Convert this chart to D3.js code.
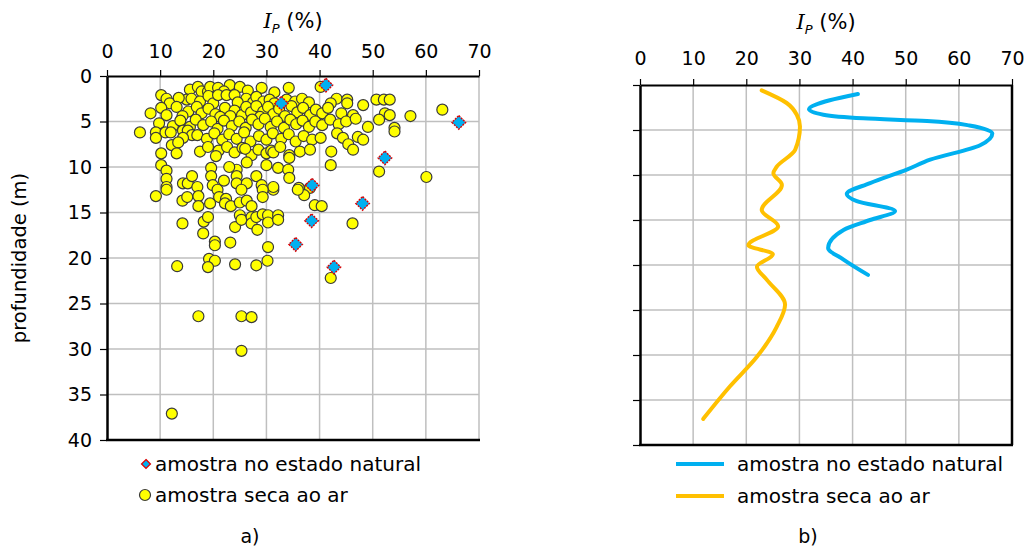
<!DOCTYPE html>
<html><head><meta charset="utf-8">
<script src="https://cdn.jsdelivr.net/npm/d3@7"></script>
<style>body{margin:0;background:#fff}svg{display:block;font-family:"DejaVu Sans",Verdana,sans-serif}</style>
</head><body>
<svg id="c" width="1027" height="547"></svg>
<script>
const ipTicks = [0,10,20,30,40,50,60,70];
const depthTicks = [0,5,10,15,20,25,30,35,40];
const legendLabels = ["amostra no estado natural","amostra seca ao ar"];

// amostra no estado natural [IP %, depth m]
const naturalPoints = [[41.2,1.0],[32.8,3.0],[66.2,5.1],[52.3,9.0],[38.6,12.0],[48.1,14.0],[38.5,15.9],[35.5,18.5],[42.7,21.0]];

// amostra seca ao ar [IP %, depth m]
const secaPoints = [
[15.6,1.5],[17.1,1.2],[17.8,1.7],[19.0,1.7],[19.4,1.2],[20.9,1.3],[23.1,1.0],[25.0,1.2],[29.1,1.3],[34.2,1.3],[40.2,1.2],[26.5,1.6],[22.0,1.7],[31.5,1.8],
[10.2,2.1],[11.2,2.5],[15.0,2.6],[15.9,2.5],[17.5,2.8],[19.1,2.2],[20.0,3.0],[20.9,2.1],[22.5,2.1],[24.0,2.1],[26.2,2.5],[27.5,2.9],[28.1,2.3],[29.4,2.8],[30.6,2.6],[31.5,3.0],[33.8,2.6],[35.4,2.8],[36.7,2.5],[38.0,2.9],[43.2,2.5],[45.2,2.6],[45.2,3.0],[42.1,3.0],[50.7,2.6],[52.1,2.6],[53.2,2.6],[11.8,3.0],[24.6,2.9],[13.5,2.4],
[10.2,3.5],[13.1,3.4],[15.3,3.9],[16.9,3.4],[17.8,4.1],[19.1,3.6],[20.4,4.2],[22.2,3.5],[24.0,3.8],[25.4,4.3],[26.2,3.4],[27.1,4.0],[28.1,3.3],[29.4,3.9],[30.3,3.4],[31.3,4.2],[32.4,3.6],[33.5,4.4],[34.7,3.3],[35.8,4.0],[36.9,3.5],[38.2,4.3],[39.3,3.7],[40.5,4.1],[41.6,3.5],[44.1,4.1],[46.3,4.3],[48.2,3.2],[52.3,4.1],[53.2,4.3],[57.1,4.4],[63.1,3.7],[8.2,4.1],[11.2,4.3],[14.2,4.4],[21.3,4.5],[23.2,4.4],[28.8,4.5],
[9.8,5.2],[12.4,5.5],[13.8,4.9],[15.6,5.6],[16.7,4.8],[18.1,5.4],[19.6,5.0],[20.8,5.8],[22.0,4.9],[23.5,5.5],[24.9,5.0],[26.1,5.7],[27.3,4.8],[28.5,5.3],[29.7,4.7],[30.8,5.6],[32.0,5.0],[33.3,5.7],[34.5,4.8],[35.6,5.3],[36.8,4.9],[38.0,5.6],[39.2,5.0],[40.5,5.4],[42.0,4.8],[43.6,5.3],[45.0,5.0],[46.8,4.7],[49.1,5.6],[51.2,4.8],[54.1,5.7],[6.2,6.2],[9.2,6.2],[11.0,6.2],[12.0,6.2],[14.3,6.0],[15.2,6.0],
[16.0,6.5],[17.0,6.5],[18.8,6.9],[20.2,6.3],[21.7,7.0],[23.0,6.4],[24.4,6.9],[25.8,6.2],[27.0,7.2],[28.6,6.6],[30.0,7.0],[31.2,6.3],[32.8,6.9],[34.2,6.4],[35.5,7.2],[37.0,6.6],[38.6,7.0],[40.2,6.8],[43.3,6.3],[44.4,6.8],[47.2,6.7],[48.2,7.0],[45.4,7.5],[54.1,6.1],[9.2,6.8],[12.2,7.6],[14.3,6.8],[13.4,7.3],
[10.2,8.5],[13.1,8.5],[17.5,8.3],[19.0,7.8],[21.0,8.2],[22.6,7.8],[24.0,8.4],[25.5,7.9],[27.2,8.7],[28.5,8.1],[30.0,8.5],[30.9,8.2],[31.3,8.4],[32.6,7.8],[34.3,8.7],[34.3,9.0],[36.3,8.3],[38.2,8.1],[42.2,8.3],[46.3,8.1],[26.0,8.0],[20.5,8.8],
[10.2,9.8],[11.2,10.4],[11.2,11.3],[11.2,12.2],[14.3,11.8],[15.2,11.8],[16.0,11.0],[17.0,12.2],[19.6,10.1],[19.6,11.0],[19.9,12.0],[20.8,12.5],[24.4,10.3],[24.4,11.0],[24.4,11.8],[26.3,9.5],[26.3,11.8],[28.1,11.0],[29.1,12.0],[30.0,9.8],[31.3,12.5],[32.2,10.1],[34.1,10.3],[34.3,11.2],[31.3,12.2],[36.1,12.3],[38.2,12.3],[37.1,13.1],[42.1,9.8],[51.2,10.5],[60.1,11.1],[9.2,13.2],[11.2,12.5],[25.3,12.5],[29.3,12.5],[23.0,10.0],[22.0,11.5],
[14.2,13.7],[15.1,13.3],[17.2,13.2],[17.2,14.3],[19.4,14.0],[21.1,13.3],[22.4,13.5],[22.2,14.0],[23.3,14.3],[25.0,13.9],[26.3,13.7],[27.2,14.3],[29.3,13.3],[35.9,12.5],[39.1,14.2],[40.4,14.3],
[14.2,16.2],[18.2,16.0],[19.0,15.5],[18.1,17.3],[20.3,18.2],[20.3,18.6],[23.2,18.3],[24.1,16.6],[25.0,15.3],[25.3,15.8],[27.2,15.5],[27.2,16.2],[28.1,15.5],[28.3,16.9],[29.3,15.2],[30.3,15.3],[30.3,16.1],[32.2,15.3],[32.2,15.8],[30.3,18.8],[46.2,16.2],
[13.2,20.9],[19.2,20.1],[20.3,20.3],[19.0,21.0],[24.1,20.7],[28.1,20.8],[30.2,20.3],[42.1,22.2],
[17.2,26.4],[25.3,26.4],[27.2,26.5],[25.3,30.2],[12.2,37.1]
];

// smoothed profiles (panel b) [IP %, depth m]
const naturalCurve = [[41.0,1.0],[35.7,1.7],[31.8,2.7],[34.5,3.3],[42,3.7],[54,4.0],[62,4.5],[66.3,5.4],[64,6.7],[54.6,8.3],[50.2,9.4],[43.3,10.9],[38.9,12.1],[40.8,12.9],[48,14.0],[43.3,15.0],[38.3,16.1],[35.4,18.1],[38.3,19.4],[42.9,21.1]];
const secaCurve = [[22.9,0.6],[27.6,2.0],[29.5,3.3],[30.1,4.6],[29.2,7.2],[25.7,9.1],[25.1,9.8],[26.7,11.1],[22.9,13.9],[26.0,15.7],[20.4,17.8],[25.0,18.8],[22.0,20.2],[23.8,21.6],[27.3,24.4],[25.7,26.9],[22.0,30.2],[16.9,33.5],[11.9,37.1]];

const svg = d3.select("#c");
const gridColor = "#bfbfbf";
const FONT = 19;

function panel(x0, x1, y0, y1, yLabels, rightBorder, titleY) {
  const x = d3.scaleLinear().domain([0,70]).range([x0,x1]);
  const y = d3.scaleLinear().domain([0,40]).range([y0,y1]);
  const g = svg.append("g");
  g.selectAll(".vg").data(ipTicks.slice(1)).join("line")
    .attr("x1", d=>x(d)).attr("x2", d=>x(d)).attr("y1", y0).attr("y2", y1)
    .attr("stroke", gridColor).attr("stroke-width", 1.5);
  g.selectAll(".hg").data(depthTicks.slice(1)).join("line")
    .attr("x1", x0).attr("x2", x1).attr("y1", d=>y(d)).attr("y2", d=>y(d))
    .attr("stroke", gridColor).attr("stroke-width", 1.5);
  const ax = g.append("g").attr("transform", `translate(0,${y0})`)
    .call(d3.axisTop(x).tickValues(ipTicks).tickSize(6).tickPadding(y0 > 80 ? 14 : 12).tickSizeOuter(0));
  ax.select(".domain").attr("stroke-width", 2);
  ax.selectAll(".tick line").attr("stroke-width", 1.2);
  ax.selectAll("text").attr("font-size", FONT).attr("fill", "#000").attr("font-family", "DejaVu Sans");
  const ay = g.append("g").attr("transform", `translate(${x0},0)`)
    .call(d3.axisLeft(y).tickValues(depthTicks).tickSize(7).tickPadding(8).tickSizeOuter(0)
      .tickFormat(yLabels ? d3.format("d") : () => ""));
  ay.select(".domain").attr("stroke-width", 2.5);
  ay.selectAll(".tick line").attr("stroke-width", 1.2);
  ay.selectAll("text").attr("font-size", FONT).attr("fill", "#000").attr("font-family", "DejaVu Sans");
  g.append("line").attr("x1", x0-1).attr("x2", x1+1).attr("y1", y1).attr("y2", y1)
    .attr("stroke", "#000").attr("stroke-width", 2.5);
  if (rightBorder) g.append("line").attr("x1", x1).attr("x2", x1).attr("y1", y0).attr("y2", y1)
    .attr("stroke", "#000").attr("stroke-width", 2.5);
  const t = g.append("text").attr("x", (x0+x1)/2).attr("y", titleY).attr("text-anchor", "middle")
    .attr("font-size", 21).attr("font-family", "DejaVu Serif, serif");
  t.append("tspan").attr("font-style", "italic").text("I");
  t.append("tspan").attr("font-style", "italic").attr("font-size", 13).attr("font-family","DejaVu Sans").attr("dy", 5).text("P");
  t.append("tspan").attr("dy", -5).attr("font-family","DejaVu Sans").text(" (%)");
  return {x, y, g};
}

// Panel a
const A = panel(107, 479, 76, 440, true, false, 28);
A.g.append("g").selectAll("circle").data(secaPoints).join("circle")
  .attr("cx", d=>A.x(d[0])).attr("cy", d=>A.y(d[1])).attr("r", 5.5)
  .attr("fill", "#ffff00").attr("stroke", "#3a3a3a").attr("stroke-width", 1.2);
const diamond = d3.symbol().type(d3.symbolDiamond2).size(118);
A.g.append("g").selectAll("path").data(naturalPoints).join("path")
  .attr("transform", d=>`translate(${A.x(d[0])},${A.y(d[1])})`)
  .attr("d", diamond).attr("fill", "#00b0f0").attr("stroke", "#e00000").attr("stroke-width", 1.4)
  .attr("stroke-dasharray", "2,1");

svg.append("text").attr("transform", "translate(26,258) rotate(-90)").attr("text-anchor","middle")
  .attr("font-size", 19.5).text("profundidade (m)");

// legend a
svg.append("path").attr("transform","translate(146,464)").attr("d", d3.symbol().type(d3.symbolDiamond2).size(50))
  .attr("fill","#00b0f0").attr("stroke","#e00000").attr("stroke-width",1.3);
svg.append("circle").attr("cx",145).attr("cy",495).attr("r",5.5).attr("fill","#ffff00").attr("stroke","#3a3a3a").attr("stroke-width",1.2);
svg.selectAll(".la").data(legendLabels).join("text").attr("x",155).attr("y",(d,i)=>471+i*31)
  .attr("font-size",20).text(d=>d);
svg.append("text").attr("x",250).attr("y",543).attr("text-anchor","middle").attr("font-size",19).text("a)");

// Panel b
const B = panel(640, 1012, 85, 445, false, true, 29);
const line = d3.line().x(d=>B.x(d[0])).y(d=>B.y(d[1])).curve(d3.curveMonotoneY);
B.g.append("path").datum(secaCurve).attr("d", line).attr("fill","none").attr("stroke","#ffc000").attr("stroke-width",4).attr("stroke-linecap","round");
B.g.append("path").datum(naturalCurve).attr("d", line).attr("fill","none").attr("stroke","#00b0f0").attr("stroke-width",4).attr("stroke-linecap","round");

// legend b
const legColors = ["#00b0f0","#ffc000"];
svg.selectAll(".lbl").data(legendLabels).join("line").attr("x1",676).attr("x2",724)
  .attr("y1",(d,i)=>464+i*32).attr("y2",(d,i)=>464+i*32).attr("stroke",(d,i)=>legColors[i]).attr("stroke-width",4);
svg.selectAll(".lbt").data(legendLabels).join("text").attr("x",737).attr("y",(d,i)=>471+i*32)
  .attr("font-size",20).text(d=>d);
svg.append("text").attr("x",808).attr("y",543).attr("text-anchor","middle").attr("font-size",19).text("b)");
</script>
</body></html>
